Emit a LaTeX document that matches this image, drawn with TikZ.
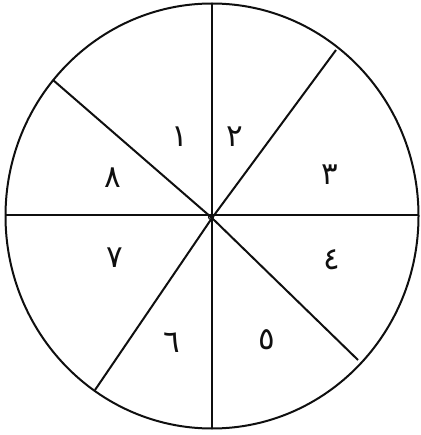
\documentclass[tikz,border=0pt]{standalone}
\usepackage{fontspec}
\newfontfamily\arabicfont[Script=Arabic]{DejaVu Sans}
\TeXXeTstate=1
\definecolor{inkblack}{RGB}{15,15,15}

\begin{document}
\begin{tikzpicture}[x=1pt,y=-1pt,
    rim/.style={inkblack,line width=2pt},
    spoke/.style={inkblack,line width=2pt},
    digit/.style={inkblack,font=\arabicfont\fontsize{31}{34}\selectfont}]
        \useasboundingbox (0,0) rectangle (420,435);
        \coordinate (o) at (212,216);
        % Wheel
        \draw[rim] (o) ellipse (206.5pt and 212.5pt);
        % Spokes
        \draw[spoke] (212,3) -- (212,428);
        \draw[spoke] (5,215) -- (418,215);
        \draw[spoke] (336,50) -- (212,218) -- (95,390);
        \draw[spoke] (53,80) -- (212,218) -- (358,360);
        % Hub
        \draw[inkblack,line width=1.2pt] (211,217) circle (2.5pt);
        % Sector numbers
        \node[digit] (n1) at (180,137) {\beginR ١\endR};
        \node[digit] (n2) at (235,137) {\beginR ٢\endR};
        \node[digit] (n3) at (330,175) {\beginR ٣\endR};
        \node[digit] (n4) at (332,260) {\beginR ٤\endR};
        \node[digit] (n5) at (267,340) {\beginR ٥\endR};
        \node[digit] (n6) at (172,343) {\beginR ٦\endR};
        \node[digit] (n7) at (115,258) {\beginR ٧\endR};
        \node[digit] (n8) at (113,178) {\beginR ٨\endR};
      \end{tikzpicture}
\end{document}
